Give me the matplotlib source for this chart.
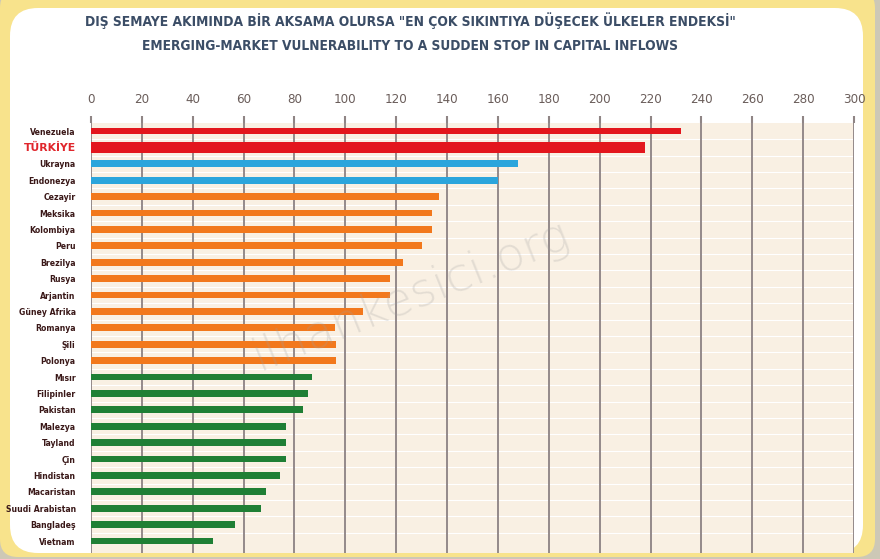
import matplotlib
matplotlib.use("Agg")
import matplotlib.pyplot as plt
from matplotlib.patches import FancyBboxPatch

countries = ["Venezuela", "TÜRKİYE", "Ukrayna", "Endonezya", "Cezayir", "Meksika",
             "Kolombiya", "Peru", "Brezilya", "Rusya", "Arjantin", "Güney Afrika",
             "Romanya", "Şili", "Polonya", "Mısır", "Filipinler", "Pakistan",
             "Malezya", "Tayland", "Çin", "Hindistan", "Macaristan",
             "Suudi Arabistan", "Bangladeş", "Vietnam"]
values = [232, 218, 168, 160, 137, 134, 134, 130, 122.5, 117.5, 117.5, 107,
          96, 96.5, 96.5, 87, 85.5, 83.5, 76.5, 76.5, 76.5, 74.5, 69, 67, 56.5, 48]
groups = ["red", "red", "blue", "blue"] + ["orange"] * 11 + ["green"] * 11
group_colors = {"red": "#e3161d", "blue": "#2ba5dc", "orange": "#f2781c", "green": "#1f7f35"}
xticks = list(range(0, 301, 20))
title1 = 'DIŞ SEMAYE AKIMINDA BİR AKSAMA OLURSA "EN ÇOK SIKINTIYA DÜŞECEK ÜLKELER ENDEKSİ"'
title2 = "EMERGING-MARKET VULNERABILITY TO A SUDDEN STOP IN CAPITAL INFLOWS"
highlight = "TÜRKİYE"

W, H = 880, 559
fig = plt.figure(figsize=(W / 100, H / 100), dpi=100)
fig.patch.set_facecolor("#cdc8b6")

# background frame in pixel coordinates
bg = fig.add_axes([0, 0, 1, 1], zorder=-5)
bg.set_xlim(0, W)
bg.set_ylim(H, 0)
bg.axis("off")
bg.add_patch(FancyBboxPatch((0, -10), 875, 567, boxstyle="round,pad=0,rounding_size=18",
                            facecolor="#f8e38c", edgecolor="none"))
bg.add_patch(FancyBboxPatch((10, 8), 853, 545, boxstyle="round,pad=0,rounding_size=28",
                            facecolor="white", edgecolor="none"))

renderer = fig.canvas.get_renderer()


def fitted_text(x_px, y_px, s, width_px, **kw):
    t = fig.text(x_px / W, 1 - y_px / H, s, ha="center", va="center", fontsize=10,
                 fontweight="bold", color="#3b4d66", fontstretch="condensed", **kw)
    w = t.get_window_extent(renderer=renderer).width
    t.set_fontsize(10 * width_px / w)
    return t


fitted_text(410, 21, title1, 650)
fitted_text(410, 46, title2, 535)

left, right = 91 / W, 854 / W
top_px, bot_px = 123, 553
ax = fig.add_axes([left, 1 - bot_px / H, right - left, (bot_px - top_px) / H])
ax.set_facecolor("#f9f0e3")
n = len(countries)
ypos = list(range(n))
for i, (c, v, g) in enumerate(zip(countries, values, groups)):
    h = 0.72 if c == highlight else 0.42
    ax.barh(i, v, height=h, color=group_colors[g], zorder=3)
for i in range(n - 1):
    ax.axhline(i + 0.5, color="white", lw=0.8, zorder=1)
ax.set_xlim(0, 300)
ax.set_ylim(n - 0.27, -0.49)
ax.xaxis.tick_top()
ax.set_xticks(xticks)
ax.set_xticklabels([str(t) for t in xticks], fontsize=9.5, color="#6a5d5a",
                   fontstretch="condensed")
ax.tick_params(axis="x", length=5, width=1.5, color="#8f8585", pad=7)
ax.grid(axis="x", color="#948a8a", lw=1.4, zorder=2)
ax.set_yticks(ypos)
ax.set_yticklabels(countries)
ax.tick_params(axis="y", length=0, pad=11)
for lab in ax.get_yticklabels():
    if lab.get_text() == highlight:
        lab.set_fontsize(7.8)
        lab.set_color("#e0262c")
    else:
        lab.set_fontsize(5.6)
        lab.set_color("#3a1818")
    lab.set_fontweight("bold")
for s in ax.spines.values():
    s.set_visible(False)

ax.text(0.42, 0.6, "ilhankesici.org", transform=ax.transAxes, fontsize=34,
        color="#a0a0a0", alpha=0.25, rotation=22, ha="center", va="center",
        fontweight="light", zorder=4)

fig.savefig("out.png", dpi=100, facecolor=fig.get_facecolor())
